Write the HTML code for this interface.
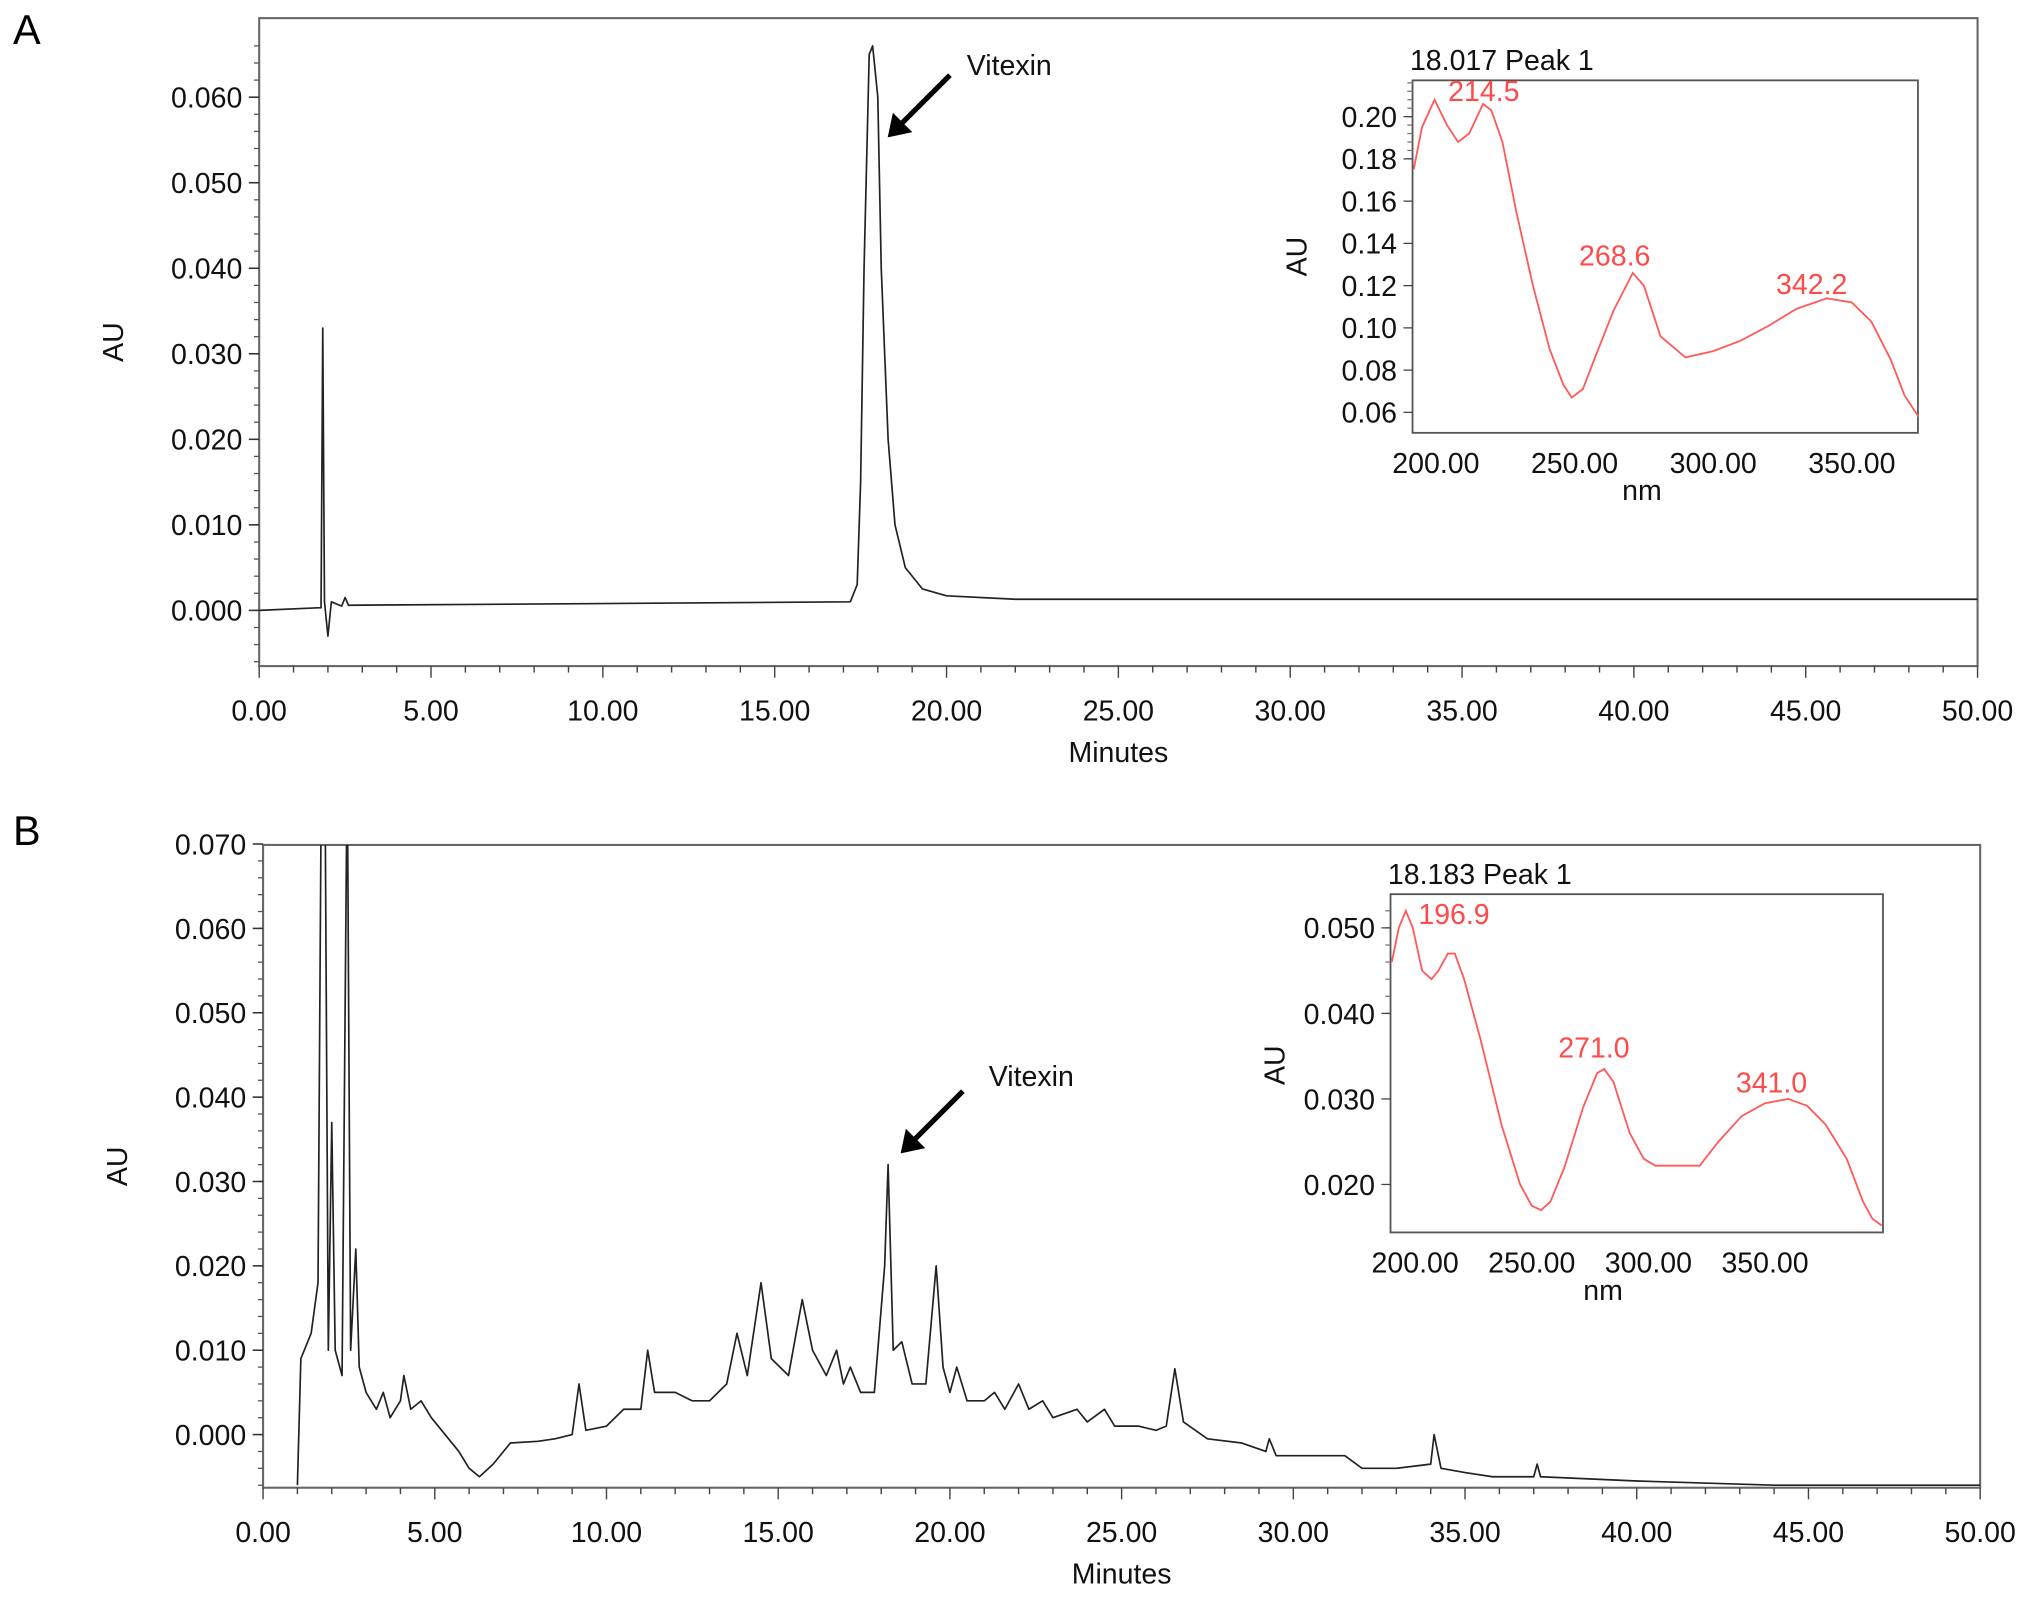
<!DOCTYPE html>
<html><head><meta charset="utf-8"><style>
html,body{margin:0;padding:0;background:#fff;}
svg{display:block;font-family:"Liberation Sans",Arial,sans-serif;}
</style></head><body>
<svg id="fig" width="2032" height="1605" viewBox="0 0 1568 1238.5" preserveAspectRatio="none" xmlns="http://www.w3.org/2000/svg">
<defs>
<clipPath id="clipA"><rect x="200" y="14" width="1326" height="500"/></clipPath>
<clipPath id="clipB"><rect x="203" y="652" width="1325" height="496"/></clipPath>
</defs>
<text x="10" y="34" font-size="32">A</text>
<text x="10" y="652" font-size="32">B</text>
<g id="root"></g>
</svg>
<script>
// ---- Panel A chromatogram ----
const timesA=[0,1.7,1.8,1.85,1.9,2.0,2.1,2.4,2.5,2.6,10,17.2,17.4,17.5,17.6,17.75,17.85,18.0,18.1,18.3,18.5,18.8,19.3,20,22,50];
const auA=[0,0.0003,0.0003,0.033,0.001,-0.003,0.001,0.0005,0.0015,0.0006,0.0008,0.001,0.003,0.015,0.04,0.065,0.066,0.06,0.04,0.02,0.01,0.005,0.0025,0.0017,0.0013,0.0013];
const yTicksA=["0.000","0.010","0.020","0.030","0.040","0.050","0.060"];
const xTicks=["0.00","5.00","10.00","15.00","20.00","25.00","30.00","35.00","40.00","45.00","50.00"];
// ---- Panel B chromatogram ----
const timesB=[1.0,1.1,1.4,1.6,1.7,1.8,1.9,2.0,2.1,2.3,2.45,2.55,2.7,2.8,3.0,3.3,3.5,3.7,4.0,4.1,4.3,4.6,4.9,5.3,5.7,6.0,6.3,6.7,7.2,8,8.5,9,9.2,9.4,10,10.5,11,11.2,11.4,12,12.5,13,13.5,13.8,14.1,14.5,14.8,15.3,15.7,16,16.4,16.7,16.9,17.1,17.4,17.8,18.1,18.2,18.35,18.6,18.9,19.3,19.6,19.8,20.0,20.2,20.5,21,21.3,21.6,22,22.3,22.7,23,23.7,24,24.5,24.8,25.5,26,26.3,26.55,26.8,27.5,28.5,29.2,29.3,29.5,31.5,32,33,34,34.1,34.3,35,35.8,37,37.1,37.2,40,44,50];
const auB=[-0.006,0.009,0.012,0.018,0.08,0.08,0.01,0.037,0.01,0.007,0.08,0.01,0.022,0.008,0.005,0.003,0.005,0.002,0.004,0.007,0.003,0.004,0.002,0,-0.002,-0.004,-0.005,-0.0035,-0.001,-0.0008,-0.0005,0,0.006,0.0005,0.001,0.003,0.003,0.010,0.005,0.005,0.004,0.004,0.006,0.012,0.007,0.018,0.009,0.007,0.016,0.01,0.007,0.01,0.006,0.008,0.005,0.005,0.02,0.032,0.01,0.011,0.006,0.006,0.02,0.008,0.005,0.008,0.004,0.004,0.005,0.003,0.006,0.003,0.004,0.002,0.003,0.0015,0.003,0.001,0.001,0.0005,0.001,0.0078,0.0015,-0.0005,-0.001,-0.002,-0.0005,-0.0025,-0.0025,-0.004,-0.004,-0.0035,0,-0.004,-0.0045,-0.005,-0.005,-0.0035,-0.005,-0.0055,-0.006,-0.006];
const yTicksB=["0.000","0.010","0.020","0.030","0.040","0.050","0.060","0.070"];
// ---- Inset A spectrum ----
const nmA=[192,195,199.5,204,208,212,217,220,224,229,235,241,246,249,253,258,264,271,275,281,290,300,310,320,330,341,350,357,364,369,374];
const specA=[0.175,0.195,0.208,0.196,0.188,0.192,0.206,0.203,0.188,0.155,0.12,0.09,0.073,0.067,0.071,0.088,0.108,0.126,0.12,0.096,0.086,0.089,0.094,0.101,0.109,0.114,0.112,0.103,0.085,0.068,0.058];
const yTicksInA=["0.06","0.08","0.10","0.12","0.14","0.16","0.18","0.20"];
const xTicksInA=["200.00","250.00","300.00","350.00"];
// ---- Inset B spectrum ----
const nmB=[190,193,196,199,203,207,210,214,217,221,228,237,245,250,254,258,264,272,278,281,285,292,298,303,322,330,340,350,360,368,376,385,392,396,400];
const specB=[0.046,0.050,0.052,0.050,0.045,0.044,0.045,0.047,0.047,0.044,0.037,0.027,0.020,0.0175,0.017,0.018,0.022,0.029,0.033,0.0335,0.032,0.026,0.023,0.0222,0.0222,0.025,0.028,0.0295,0.030,0.0292,0.027,0.023,0.018,0.016,0.0152];
const yTicksInB=["0.020","0.030","0.040","0.050"];
const xTicksInB=["200.00","250.00","300.00","350.00"];

const NS="http://www.w3.org/2000/svg";
const root=document.getElementById('root');
function mk(tag,attrs,parent){const e=document.createElementNS(NS,tag);for(const k in attrs)e.setAttribute(k,attrs[k]);(parent||root).appendChild(e);return e;}
function txt(x,y,s,size,anchor,fill,parent){const t=mk('text',{x:x,y:y,'font-size':size,'text-anchor':anchor||'start',fill:fill||'#111'},parent);t.textContent=s;return t;}
function pathFrom(xs,ys,fx,fy){let d='';for(let i=0;i<xs.length;i++){d+=(i?'L':'M')+fx(xs[i]).toFixed(2)+' '+fy(ys[i]).toFixed(2);}return d;}

function mainPanel(cfg){
  const g=mk('g',{});
  
  
  const fx=t=>cfg.x0+(t-0)/50*(cfg.x1-cfg.x0);
  const fy=v=>cfg.yZero-v/0.01*cfg.yPer;
  const fr=mk('rect',{x:cfg.x0,y:cfg.top,width:cfg.x1-cfg.x0,height:cfg.bot-cfg.top,fill:'none',stroke:'#666','stroke-width':1.6},g);
  
  
  // y ticks
  for(let v=-0.006;v<=cfg.ymax+1e-9;v+=0.002){const y=fy(v);if(y<cfg.top-0.5||y>cfg.bot)continue;mk('line',{x1:cfg.x0-4,x2:cfg.x0,y1:y,y2:y,stroke:'#555','stroke-width':1},g);}
  cfg.yTicks.forEach(s=>{const v=parseFloat(s);const y=fy(v);mk('line',{x1:cfg.x0-8,x2:cfg.x0,y1:y,y2:y,stroke:'#333','stroke-width':1.2},g);
    const t=txt(cfg.x0-13,y+8,s,22,'end','#111',g);});
  for(let m=0;m<=50;m++){const x=fx(m);const major=m%5===0;mk('line',{x1:x,x2:x,y1:cfg.bot,y2:cfg.bot+(major?9:5),stroke:'#444','stroke-width':1.1},g);}
  xTicks.forEach(s=>{const x=fx(parseFloat(s));const t=txt(x,cfg.bot+42,s,22,'middle','#111',g);});
  const xt=txt((cfg.x0+cfg.x1)/2,cfg.bot+74,'Minutes',22,'middle','#111',g);
  
  const yt=txt(0,0,'AU',22,'middle','#111',g);
  yt.setAttribute('transform','translate('+(cfg.x0-105)+','+((cfg.top+cfg.bot)/2)+') rotate(-90)');
  
  const p=mk('path',{d:pathFrom(cfg.t,cfg.v,fx,fy),fill:'none',stroke:'#222','stroke-width':1.3,'stroke-linejoin':'round','clip-path':cfg.clip},g);
  
  // annotation
  const ax=cfg.arrow;
  const a=mk('line',{x1:ax[0],y1:ax[1],x2:ax[2]+7,y2:ax[3]-7,stroke:'#000','stroke-width':4},g);
  
  const hd=mk('polygon',{points:ax[2]+','+ax[3]+' '+(ax[2]+4)+','+(ax[3]-19)+' '+(ax[2]+19)+','+(ax[3]-4),fill:'#000'},g);
  
  const vl=txt(ax[1+3]+0,0,'',1,'start','#111',g);g.removeChild(vl);
  const vt=txt(cfg.vlabel[0],cfg.vlabel[1],'Vitexin',22,'start','#111',g);
  
}
mainPanel({name:'chromatogram-a',x0:200,x1:1526,top:14,bot:514,yZero:471,yPer:66,ymax:0.066,yTicks:yTicksA,t:timesA,v:auA,clip:'url(#clipA)',arrow:[733,58,685,106],vlabel:[746,58]});
mainPanel({name:'chromatogram-b',x0:203,x1:1528,top:652,bot:1148,yZero:1107,yPer:65.1,ymax:0.070,yTicks:yTicksB,t:timesB,v:auB,clip:'url(#clipB)',arrow:[743,842,695,890],vlabel:[763,838]});

function inset(cfg){
  const g=mk('g',{});
  
  
  const fx=n=>cfg.xRef+(n-200)*cfg.xPer;
  const fy=v=>cfg.yRef-(v-cfg.vRef)/cfg.vStep*cfg.yStep;
  const fr=mk('rect',{x:cfg.x0,y:cfg.top,width:cfg.x1-cfg.x0,height:cfg.bot-cfg.top,fill:'#fff',stroke:'#555','stroke-width':1.4},g);
  
  const minor=cfg.vStep/5;
  for(let v=cfg.vRef-cfg.vStep;v<=cfg.vRef+cfg.vStep*12;v+=minor){const y=fy(v);if(y<cfg.top||y>cfg.bot)continue;mk('line',{x1:cfg.x0-4,x2:cfg.x0,y1:y,y2:y,stroke:'#777','stroke-width':1},g);}
  cfg.yTicks.forEach(s=>{const y=fy(parseFloat(s));mk('line',{x1:cfg.x0-7,x2:cfg.x0,y1:y,y2:y,stroke:'#444','stroke-width':1},g);
    const t=txt(cfg.x0-12,y+8,s,22,'end','#111',g);});
  cfg.xTicks.forEach(s=>{const x=fx(parseFloat(s));const t=txt(x,cfg.bot+31,s,22,'middle','#111',g);});
  const nt=txt(cfg.nmX,cfg.bot+52,'nm',22,'middle','#111',g);
  const at=txt(0,0,'AU',22,'middle','#111',g);
  at.setAttribute('transform','translate('+(cfg.x0-82)+','+cfg.auY+') rotate(-90)');
  
  const tt=txt(cfg.x0-2,cfg.top-8,cfg.title,22,'start','#111',g);
  const p=mk('path',{d:pathFrom(cfg.nm,cfg.v,fx,fy),fill:'none',stroke:'#ff5a5a','stroke-width':1.4},g);
  
  cfg.labels.forEach(l=>{const t=txt(l[0],l[1],l[2],22,'middle','#ff4a4a',g);});
}
inset({name:'uv-inset-a',x0:1090,x1:1480,top:62,bot:334,xRef:1108,xPer:2.14,yRef:90,vRef:0.20,vStep:0.02,yStep:32.6,yTicks:yTicksInA,xTicks:xTicksInA,nm:nmA,v:specA,title:'18.017 Peak 1',nmX:1267,auY:198,labels:[[1145,78,'214.5'],[1246,205,'268.6'],[1398,227,'342.2']]});
inset({name:'uv-inset-b',x0:1073,x1:1453,top:690,bot:951,xRef:1092,xPer:1.8,yRef:716,vRef:0.050,vStep:0.010,yStep:66,yTicks:yTicksInB,xTicks:xTicksInB,nm:nmB,v:specB,title:'18.183 Peak 1',nmX:1237,auY:822,labels:[[1122,713,'196.9'],[1230,816,'271.0'],[1367,843,'341.0']]});
</script>
</body></html>
